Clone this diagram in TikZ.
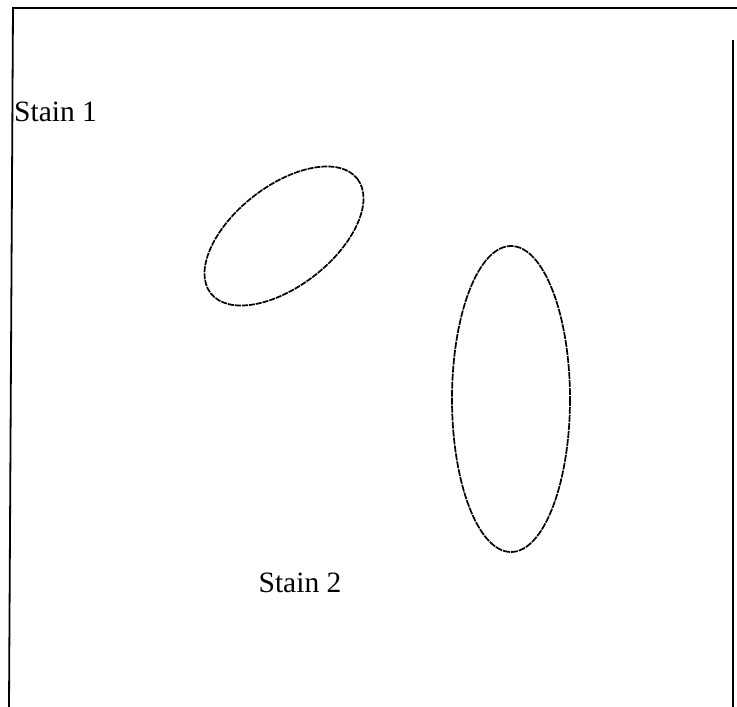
\documentclass[tikz,border=0pt]{standalone}
\usepackage{fontspec}
\setmainfont{Liberation Serif}

\begin{document}
\begin{tikzpicture}[x=1pt, y=-1pt]
	
	\useasboundingbox (0,0) rectangle (737,707);
	
	% frame, open at the bottom
	\draw[line width=1.8pt] (9,707) -- (13,8) -- (737,8);
	\draw[line width=1.5pt] (733,40) -- (733,707);
	
	\node[anchor=west, inner sep=0pt, font=\fontsize{29.5}{34}\selectfont] (stainone) at (14,112) {Stain 1};
	\node[inner sep=0pt, font=\fontsize{29.5}{34}\selectfont] (staintwo) at (300,583) {Stain 2};
	
	% stains
	\draw[line width=1.7pt, dash pattern=on 6pt off 1pt] (284,236) ellipse [x radius=93, y radius=50, rotate=38];
	\draw[line width=1.7pt, dash pattern=on 7pt off 1pt] (511,399) ellipse [x radius=59, y radius=153];
	
\end{tikzpicture}
\end{document}
